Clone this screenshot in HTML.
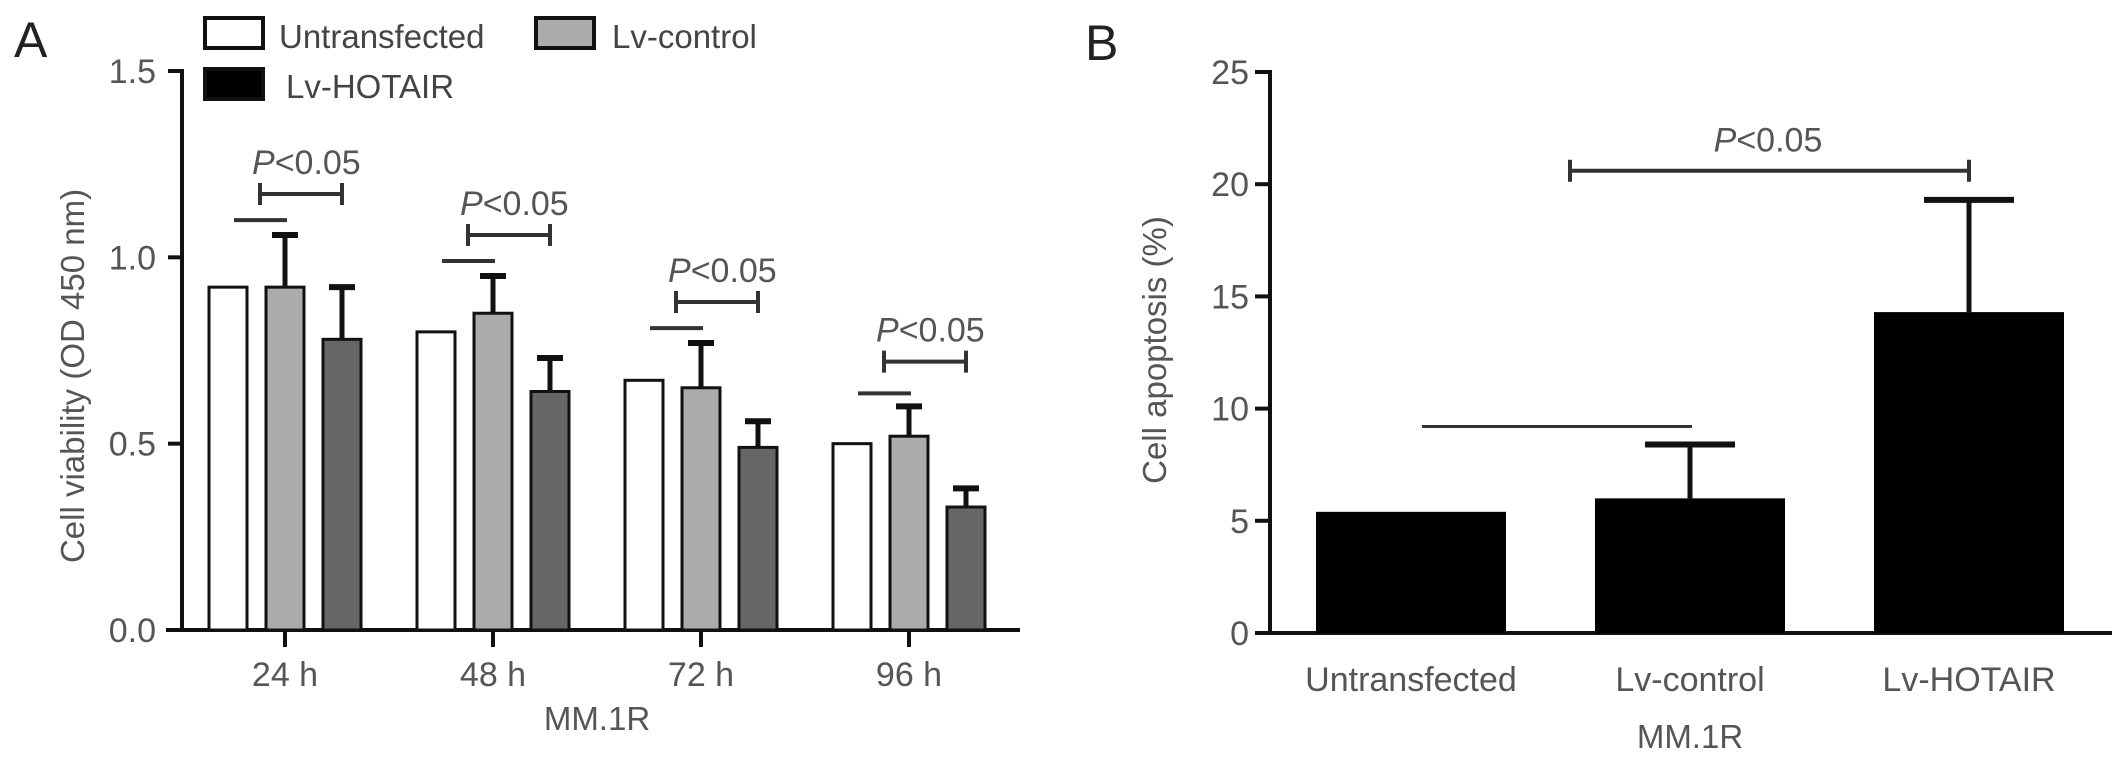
<!DOCTYPE html>
<html><head><meta charset="utf-8"><style>
html,body{margin:0;padding:0;background:#fff;}
svg{display:block;font-family:"Liberation Sans",sans-serif;}
</style></head><body>
<svg id="fig" width="2126" height="758" viewBox="0 0 2126 758" xmlns="http://www.w3.org/2000/svg">
<g id="panelA"></g>
<g id="panelB"></g>
</svg>
<script>
const groupsA = ["24 h","48 h","72 h","96 h"];
const seriesNamesA = ["Untransfected","Lv-control","Lv-HOTAIR"];
const untransfectedA = [0.92,0.80,0.67,0.50];
const lvControlA = [0.92,0.85,0.65,0.52];
const lvControlErrA = [0.14,0.10,0.12,0.08];
const lvHotairA = [0.78,0.64,0.49,0.33];
const lvHotairErrA = [0.14,0.09,0.07,0.05];
const ticksA = [0,0.5,1.0,1.5];
const tickLabelsA = ["0.0","0.5","1.0","1.5"];
const sigLineA = [1.10,0.99,0.81,0.635];
const sigBracketA = [1.17,1.06,0.88,0.72];

const catsB = ["Untransfected","Lv-control","Lv-HOTAIR"];
const valsB = [5.4,6.0,14.3];
const errsB = [0,2.4,5.0];
const ticksB = [0,5,10,15,20,25];
const sigLineB = 9.2;
const sigBracketB = 20.6;

const NS="http://www.w3.org/2000/svg";
function mk(parent,tag,attrs,text){const e=document.createElementNS(NS,tag);for(const k in attrs)e.setAttribute(k,attrs[k]);if(text!==undefined)e.textContent=text;parent.appendChild(e);return e;}

// ---------- Panel A ----------
const A=document.getElementById('panelA');
const ax0=182, ay0=630, ayPer=(630-71)/1.5;
const yA=v=>ay0-v*ayPer;
const gc=i=>285+i*208;
const offs=[-57,0,57], bw=38;
const fills=["#ffffff","#ababab","#666666"];
let t=mk(A,'text',{x:14,y:57,'font-size':50,fill:'#222'},'A');


const legPos=[[205,18,279,48],[536,18,612,48],[205,69,286,98]];
const legFill=["#ffffff","#ababab","#000000"];
seriesNamesA.forEach((n,i)=>{
  const p=legPos[i];
  const r=mk(A,'rect',{x:p[0],y:p[1],width:58,height:30,fill:legFill[i],stroke:'#111','stroke-width':4});
  
  
  const tx=mk(A,'text',{x:p[2],y:p[3],'font-size':33,fill:'#444'},n);
  
  
});
let l=mk(A,'line',{x1:ax0,y1:yA(1.5)-2,x2:ax0,y2:ay0+2,stroke:'#111','stroke-width':4});


l=mk(A,'line',{x1:166,y1:ay0,x2:1020,y2:ay0,stroke:'#111','stroke-width':4});


ticksA.forEach((v,i)=>{
  mk(A,'line',{x1:168,y1:yA(v),x2:ax0,y2:yA(v),stroke:'#111','stroke-width':4});
  const tx=mk(A,'text',{x:156,y:yA(v)+12,'font-size':34,fill:'#555','text-anchor':'end'},tickLabelsA[i]);
  
  
});
t=mk(A,'text',{x:0,y:0,'font-size':33,fill:'#555','text-anchor':'middle',transform:'translate(84,376) rotate(-90)'},'Cell viability (OD 450 nm)');


t=mk(A,'text',{x:gc(1.5),y:730,'font-size':33,fill:'#555','text-anchor':'middle'},'MM.1R');


const serA=[untransfectedA,lvControlA,lvHotairA], errA=[null,lvControlErrA,lvHotairErrA];
groupsA.forEach((g,i)=>{
  const c=gc(i);
  mk(A,'line',{x1:c,y1:ay0,x2:c,y2:ay0+17,stroke:'#111','stroke-width':4});
  const tx=mk(A,'text',{x:c,y:686,'font-size':34,fill:'#555','text-anchor':'middle'},g);
  
  
  serA.forEach((s,k)=>{
    const cx=c+offs[k];
    if(errA[k]){
      const top=yA(s[i]+errA[k][i]);
      mk(A,'line',{x1:cx,y1:top,x2:cx,y2:yA(s[i]),stroke:'#111','stroke-width':5});
      mk(A,'line',{x1:cx-13,y1:top,x2:cx+13,y2:top,stroke:'#111','stroke-width':6});
    }
    const b=mk(A,'rect',{x:cx-bw/2,y:yA(s[i]),width:bw,height:ay0-yA(s[i]),fill:fills[k],stroke:'#111','stroke-width':3});
    
    
  });
  const sl=mk(A,'line',{x1:c-51,y1:yA(sigLineA[i]),x2:c+2,y2:yA(sigLineA[i]),stroke:'#333','stroke-width':4});
  
  
  const by=yA(sigBracketA[i]);
  const br=mk(A,'path',{d:`M${c-25} ${by-11}V${by+11}M${c-25} ${by}H${c+57}M${c+57} ${by-11}V${by+11}`,stroke:'#333','stroke-width':4,fill:'none'});
  
  
  const pt=mk(A,'text',{x:c-33,y:by-20,'font-size':34,fill:'#555'});
  
  
  mk(pt,'tspan',{'font-style':'italic'},'P');
  mk(pt,'tspan',{},'<0.05');
});

// ---------- Panel B ----------
const B=document.getElementById('panelB');
const bx0=1270, by0=633, byPer=(633-72)/25;
const yB=v=>by0-v*byPer;
const bc=i=>1411+i*279;
t=mk(B,'text',{x:1085,y:60,'font-size':50,fill:'#222'},'B');


l=mk(B,'line',{x1:bx0,y1:yB(25)-2,x2:bx0,y2:by0+2,stroke:'#111','stroke-width':4});


l=mk(B,'line',{x1:1255,y1:by0,x2:2112,y2:by0,stroke:'#111','stroke-width':4});


ticksB.forEach(v=>{
  mk(B,'line',{x1:1255,y1:yB(v),x2:bx0,y2:yB(v),stroke:'#111','stroke-width':4});
  const tx=mk(B,'text',{x:1249,y:yB(v)+12,'font-size':34,fill:'#555','text-anchor':'end'},String(v));
  
  
});
t=mk(B,'text',{x:0,y:0,'font-size':33,fill:'#555','text-anchor':'middle',transform:'translate(1166,350) rotate(-90)'},'Cell apoptosis (%)');


t=mk(B,'text',{x:bc(1),y:748,'font-size':33,fill:'#555','text-anchor':'middle'},'MM.1R');


catsB.forEach((c,i)=>{
  const cx=bc(i);
  if(errsB[i]>0){
    const top=yB(valsB[i]+errsB[i]);
    mk(B,'line',{x1:cx,y1:top,x2:cx,y2:yB(valsB[i]),stroke:'#111','stroke-width':5});
    mk(B,'line',{x1:cx-45,y1:top,x2:cx+45,y2:top,stroke:'#111','stroke-width':6});
  }
  const b=mk(B,'rect',{x:cx-95,y:yB(valsB[i]),width:190,height:by0-yB(valsB[i]),fill:'#000'});
  
  
  const tx=mk(B,'text',{x:cx,y:691,'font-size':34,fill:'#555','text-anchor':'middle'},c);
  
  
});
l=mk(B,'line',{x1:1422,y1:yB(sigLineB),x2:1692,y2:yB(sigLineB),stroke:'#333','stroke-width':3});


const bby=yB(sigBracketB);
l=mk(B,'path',{d:`M1570 ${bby-11}V${bby+11}M1570 ${bby}H${bc(2)}M${bc(2)} ${bby-11}V${bby+11}`,stroke:'#333','stroke-width':4,fill:'none'});


const pb=mk(B,'text',{x:1768,y:bby-19,'font-size':34,fill:'#555','text-anchor':'middle'});


mk(pb,'tspan',{'font-style':'italic'},'P');
mk(pb,'tspan',{},'<0.05');
</script>
</body></html>
